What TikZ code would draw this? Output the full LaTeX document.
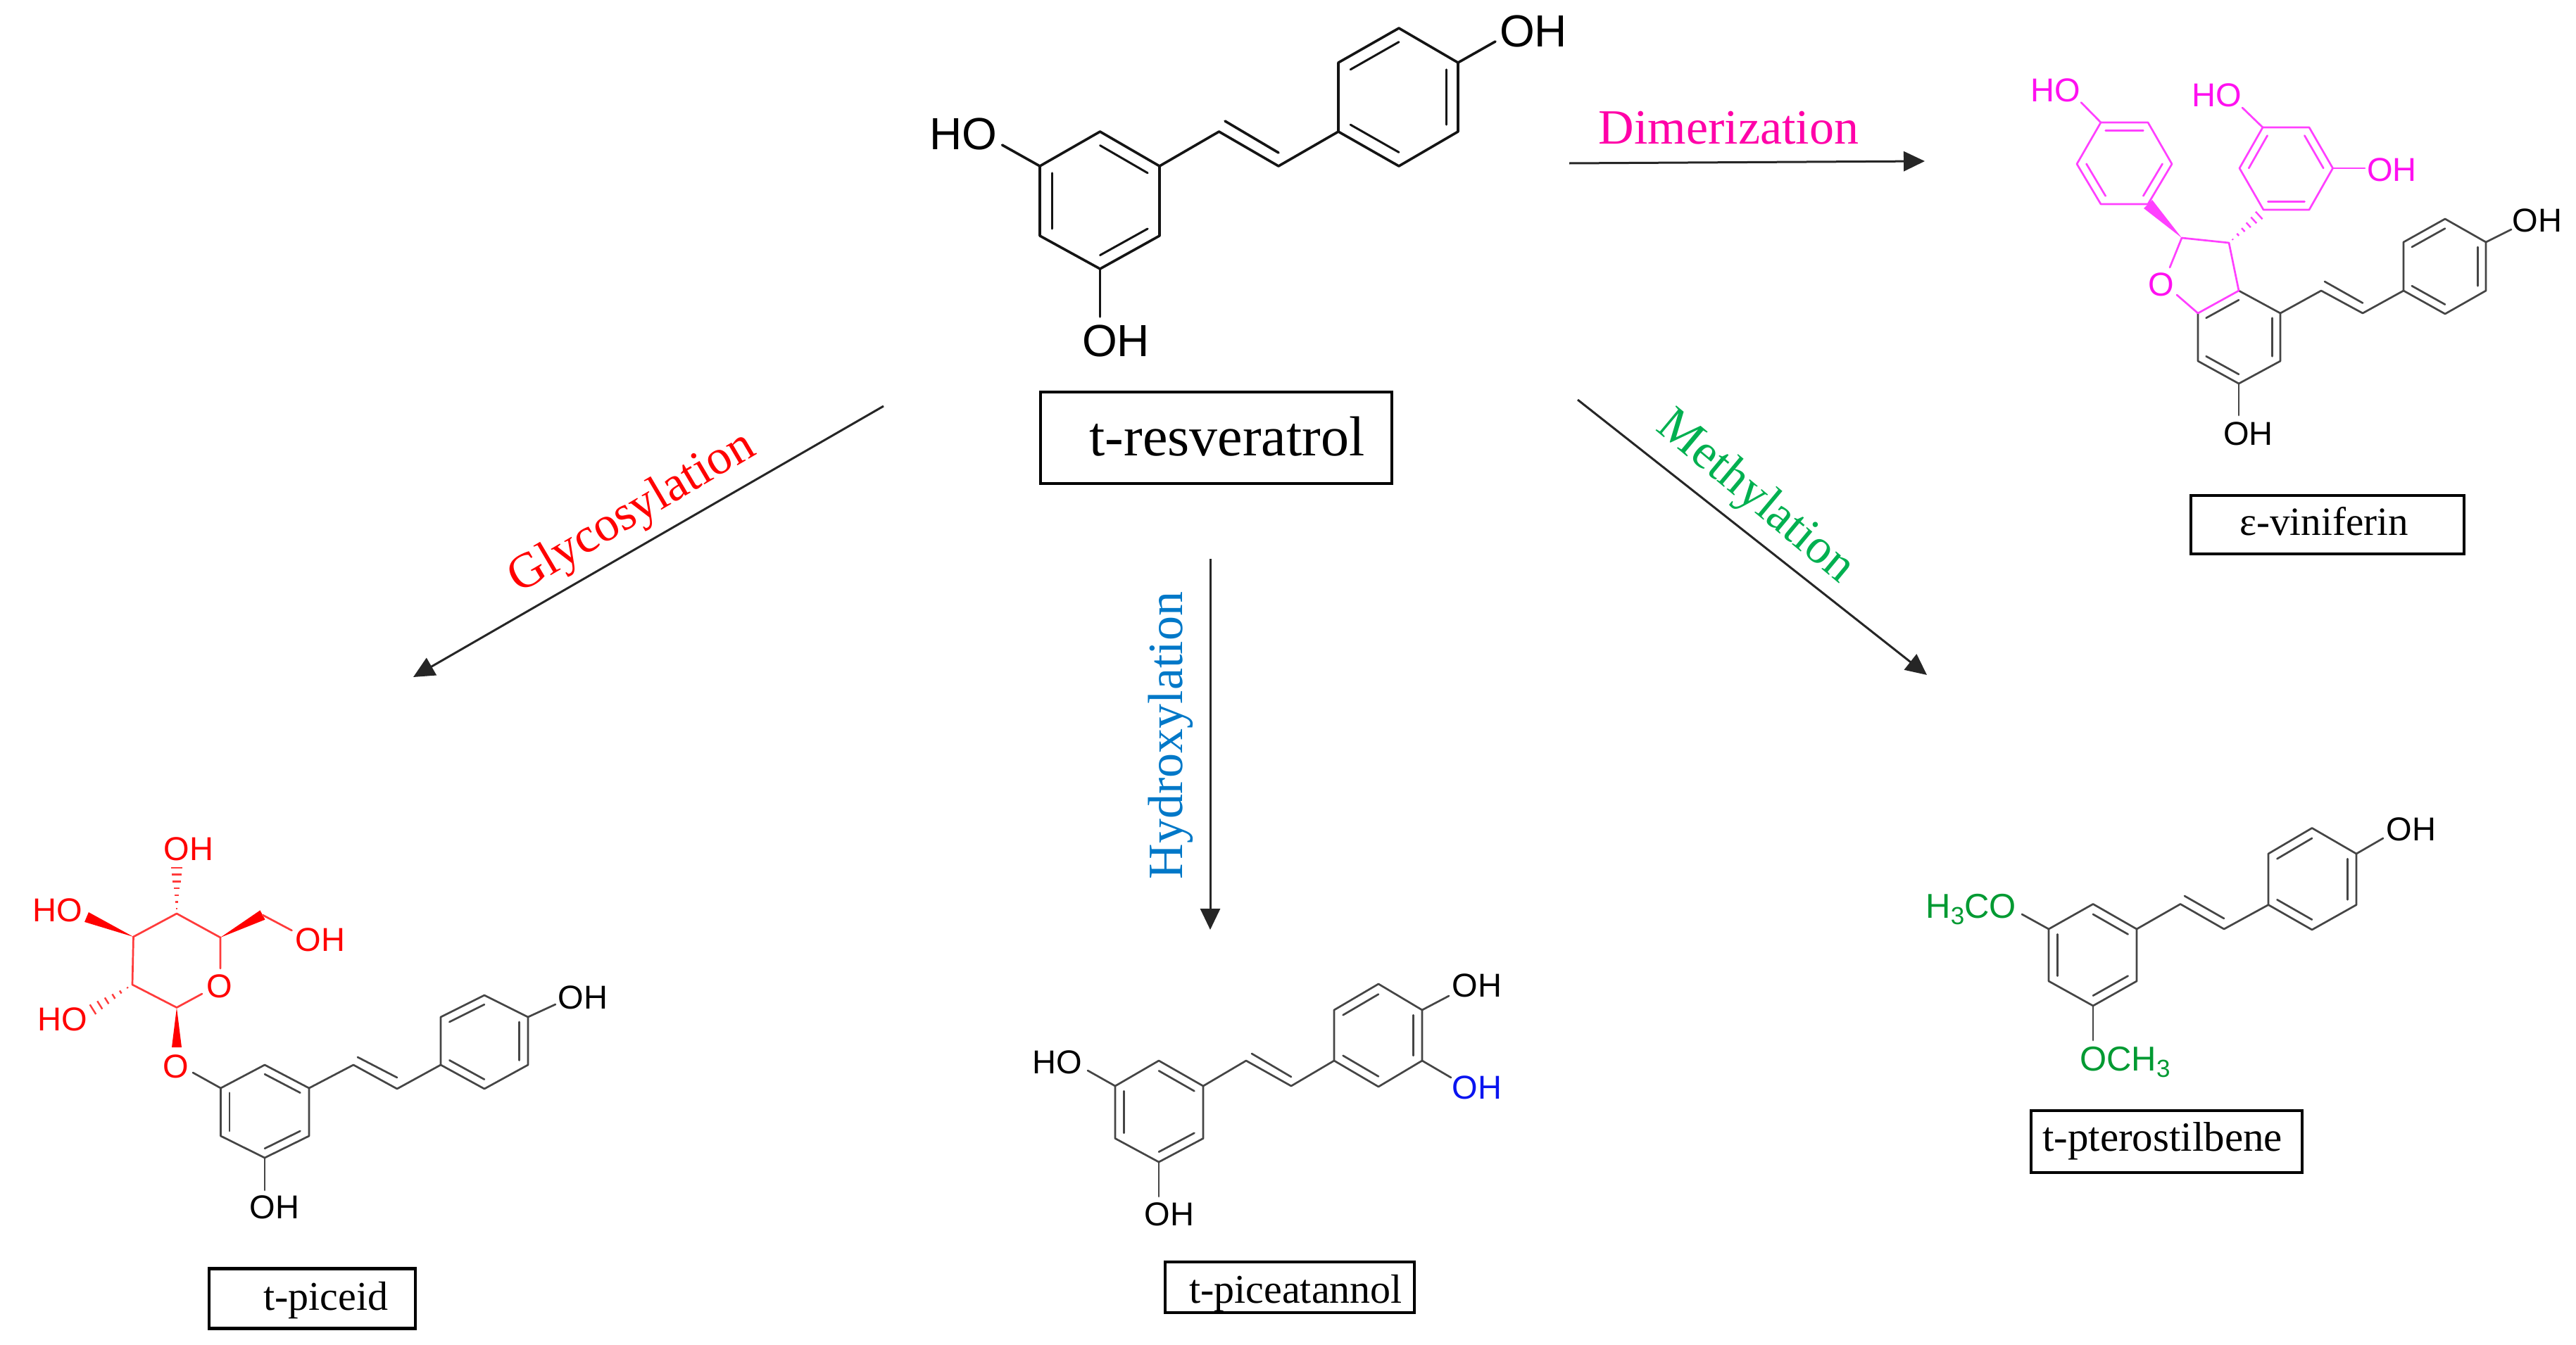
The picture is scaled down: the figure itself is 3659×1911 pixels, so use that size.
\documentclass[tikz,border=0pt]{standalone}
\usepackage{fontspec}
\setmainfont{Liberation Serif}
\newfontfamily\chemfont{Liberation Sans}
\usetikzlibrary{calc,arrows.meta}
\definecolor{dkgrey}{HTML}{454545}
\definecolor{magbond}{HTML}{FF40FF}
\definecolor{magtext}{HTML}{FF10F0}
\definecolor{redbond}{HTML}{FF3B3B}
\definecolor{chemgreen}{HTML}{009A32}
\definecolor{chemblue}{HTML}{0A14F0}
\definecolor{labpink}{HTML}{FF00A8}
\definecolor{labblue}{HTML}{0078C8}
\definecolor{labgreen}{HTML}{00B050}
\newcommand{\fsz}[1]{\fontsize{#1}{#1}\selectfont}
\newcommand{\subthree}{\raisebox{-9pt}{\fsz{35}3}}
\tikzset{
  x=1pt,y=-1pt,
  bondbig/.style={line width=3.6pt,draw=black!92,line cap=round,line join=round},
  bond/.style={line width=2.7pt,draw=dkgrey,line cap=round,line join=round},
  magb/.style={line width=2.7pt,draw=magbond,line cap=round,line join=round},
  redb/.style={line width=2.7pt,draw=redbond,line cap=round,line join=round},
  atombig/.style={inner sep=0pt,font=\chemfont\fsz{64}},
  atom/.style={inner sep=0pt,font=\chemfont\fsz{47}},
  atomwide/.style={inner sep=0pt,font=\chemfont\fsz{49}},
  namebox/.style={draw=black,line width=4.5pt,inner sep=0pt,fill=none},
  namelab/.style={inner sep=0pt,anchor=base},
  conv/.style={line width=3pt,draw=black!85,-{Triangle[length=30pt,width=28pt]}},
  rlab/.style={inner sep=0pt,anchor=base,font=\fsz{70}},
}
% inner line of a double bond: edge a-b pulled towards ring centre c
\newcommand{\inb}[3]{\path ($(#3)!0.8!(#1)$) coordinate (ia) ($(#3)!0.8!(#2)$) coordinate (ib); \draw[currentbond] (ia) -- (ib);}
\newcommand{\wedgeb}[6]{% x1 y1 x2 y2 width colour
  \pgfmathsetmacro{\wdx}{#3-#1}\pgfmathsetmacro{\wdy}{#4-#2}
  \pgfmathsetmacro{\wl}{veclen(\wdx,\wdy)}
  \pgfmathsetmacro{\wnx}{-\wdy/\wl*#5/2}\pgfmathsetmacro{\wny}{\wdx/\wl*#5/2}
  \fill[#6] (#1,#2) -- (#3+\wnx,#4+\wny) -- (#3-\wnx,#4-\wny) -- cycle;}
\newcommand{\hashb}[7]{% x1 y1 x2 y2 width colour n
  \pgfmathsetmacro{\wdx}{#3-#1}\pgfmathsetmacro{\wdy}{#4-#2}
  \pgfmathsetmacro{\wl}{veclen(\wdx,\wdy)}
  \pgfmathsetmacro{\wnx}{-\wdy/\wl*#5/2}\pgfmathsetmacro{\wny}{\wdx/\wl*#5/2}
  \foreach \i in {1,...,#7}{
    \pgfmathsetmacro{\wt}{(\i-0.3)/#7}
    \draw[line width=2.4pt,draw=#6] (#1+\wt*\wdx+\wt*\wnx,#2+\wt*\wdy+\wt*\wny) -- (#1+\wt*\wdx-\wt*\wnx,#2+\wt*\wdy-\wt*\wny);
  }}
\begin{document}
\begin{tikzpicture}
\useasboundingbox (0,0) rectangle (3659,1911);
\fill[white] (0,0) rectangle (3659,1911);

% ---------- t-resveratrol
\tikzset{currentbond/.style={bondbig,line width=3pt}}
\draw[bondbig] (1562.5,187) -- (1647,236) -- (1647,335) -- (1562.5,382) -- (1477,335) -- (1477,236) -- cycle;
\draw[bondbig] (1647,236) -- (1731.5,187) -- (1816,236) -- (1901,187);
\draw[bondbig] (1901,187) -- (1987,236) -- (2071,187) -- (2071,89) -- (1987,40) -- (1901,89) -- cycle;
\coordinate (ca) at (1562.5,285); \coordinate (cb) at (1987,138);
\inb{1562.5,187}{1647,236}{ca}\inb{1477,236}{1477,335}{ca}\inb{1647,335}{1562.5,382}{ca}
\inb{1901,89}{1987,40}{cb}\inb{2071,89}{2071,187}{cb}\inb{1901,187}{1987,236}{cb}
\draw[bondbig] (1740,172) -- (1816,217);
\node[atombig] (res1) at (2178,44) {OH};
\node[atombig] (res2) at (1368,190) {HO};
\node[atombig] (res3) at (1585,484) {OH};
\draw[bondbig] (2071,89) -- (2124,59);
\draw[bondbig] (1477,236) -- (1423.5,206);
\draw[bondbig] (1562.5,382) -- (1562.5,450);
\node[namebox,minimum width=499pt,minimum height=130pt] (resbox) at (1727.5,622) {};
\node[namelab,font=\fsz{80}] (reslab) at (1743,647) {t-resveratrol};

% ---------- e-viniferin
\tikzset{currentbond/.style={bond}}
\draw[bond] (3180,413) -- (3239,445) -- (3239,513) -- (3180,545) -- (3122,513) -- (3122,445);
\draw[magb] (3122,445) -- (3180,413);
\coordinate (cc) at (3180,479);
\inb{3122,445}{3180,413}{cc}\inb{3239,445}{3239,513}{cc}\inb{3180,545}{3122,513}{cc}
\draw[bond] (3239,445) -- (3297,413) -- (3356,445) -- (3414,413);
\draw[bond] (3302,400) -- (3356,430.5);
\draw[bond] (3414,413) -- (3473,446) -- (3531,413) -- (3531,344) -- (3473,311) -- (3414,344) -- cycle;
\coordinate (cd) at (3473,379);
\inb{3414,344}{3473,311}{cd}\inb{3531,344}{3531,413}{cd}\inb{3414,413}{3473,446}{cd}
\draw[bond] (3531,344) -- (3567,326);
\draw[bond] (3180,545) -- (3180,590);
\node[atom] (vin1) at (3604,313) {OH};
\node[atom] (vin2) at (3193.5,616) {OH};
% furan
\draw[magb] (3122,445) -- (3092,419);
\draw[magb] (3082,380) -- (3099,338) -- (3166,345) -- (3180,413);
\node[atom,text=magtext] (vinO) at (3070,404) {O};
\wedgeb{3099}{338}{3051}{290}{17}{magbond!100!magenta}
\hashb{3166}{345}{3211}{304}{15}{magbond}{6}
% ring P
\tikzset{currentbond/.style={magb}}
\draw[magb] (2984,174) -- (3051,174) -- (3085,233) -- (3051,290) -- (2984,290) -- (2950,233) -- cycle;
\coordinate (ce) at (3017.5,232);
\inb{2984,174}{3051,174}{ce}\inb{3085,233}{3051,290}{ce}\inb{2950,233}{2984,290}{ce}
\draw[magb] (2984,174) -- (2956,145.5);
\node[atom,text=magtext] (vin3) at (2920,128) {HO};
% ring Q
\draw[magb] (3214,181) -- (3280,181) -- (3313.5,239) -- (3280,298) -- (3215,298) -- (3181,239) -- cycle;
\coordinate (cf) at (3247,239);
\inb{3280,181}{3313.5,239}{cf}\inb{3181,239}{3214,181}{cf}\inb{3215,298}{3280,298}{cf}
\draw[magb] (3214,181) -- (3185,153);
\draw[magb] (3313.5,239) -- (3359,239);
\node[atom,text=magtext] (vin4) at (3149,135) {HO};
\node[atom,text=magtext] (vin5) at (3397.5,241.5) {OH};
\node[namebox,minimum width=388pt,minimum height=83pt] (vinbox) at (3306,745.5) {};
\node[namelab,font=\fsz{57}] (vinlab) at (3301,760) {ε-viniferin};

% ---------- t-piceid
\draw[redb] (251,1298) -- (313,1332) -- (313,1376);
\draw[redb] (287,1412) -- (251,1431.5) -- (188,1399) -- (189.5,1331) -- (251,1298);
\node[atom,text=red] (picO1) at (312,1401.5) {O};
\wedgeb{189.5}{1331}{123}{1303}{15}{red}
\wedgeb{313}{1332}{373}{1300}{15}{red}
\draw[redb] (373,1300) -- (414.5,1322);
\wedgeb{251}{1431.5}{251}{1488}{14}{red}
\hashb{251}{1298}{251}{1230}{17}{redbond}{7}
\hashb{188}{1399}{129}{1436}{17}{redbond}{6}
\node[atom,text=red] (pic1) at (268,1206) {OH};
\node[atom,text=red] (pic2) at (82,1293) {HO};
\node[atom,text=red] (pic3) at (455,1335) {OH};
\node[atom,text=red] (pic4) at (89,1448.5) {HO};
\node[atom,text=red] (picO2) at (250,1515) {O};
\tikzset{currentbond/.style={bond}}
\draw[bond] (274,1524) -- (313.5,1546);
\draw[bond] (313.5,1546) -- (376,1513) -- (439,1546) -- (439,1614) -- (376,1645) -- (313.5,1614) -- cycle;
\coordinate (cg) at (376,1579);
\inb{376,1513}{439,1546}{cg}\inb{313.5,1546}{313.5,1614}{cg}\inb{439,1614}{376,1645}{cg}
\draw[bond] (439,1546) -- (502,1513) -- (564,1547) -- (626,1513);
\draw[bond] (508,1502) -- (564,1531);
\draw[bond] (626,1513) -- (688,1547) -- (750,1513) -- (750,1445) -- (688,1414) -- (626,1445) -- cycle;
\coordinate (ch) at (688,1480);
\inb{626,1445}{688,1414}{ch}\inb{750,1445}{750,1513}{ch}\inb{626,1513}{688,1547}{ch}
\draw[bond] (750,1445) -- (789,1427);
\draw[bond] (376,1645) -- (376,1691);
\node[atom] (pic5) at (828,1417) {OH};
\node[atom] (pic6) at (390,1715.5) {OH};
\node[namebox,minimum width=293pt,minimum height=85pt] (picbox) at (443.5,1845) {};
\node[namelab,font=\fsz{58}] (piclab) at (463,1861) {t-piceid};

% ---------- t-piceatannol
\draw[bond] (1646,1507) -- (1709,1543) -- (1709,1617.5) -- (1646,1651) -- (1584,1617.5) -- (1584,1543) -- cycle;
\coordinate (ci) at (1646,1579);
\inb{1646,1507}{1709,1543}{ci}\inb{1584,1543}{1584,1617.5}{ci}\inb{1709,1617.5}{1646,1651}{ci}
\draw[bond] (1709,1543) -- (1770,1507) -- (1834,1543) -- (1895,1507);
\draw[bond] (1778,1497) -- (1834,1530);
\draw[bond] (1895,1507) -- (1958,1544) -- (2020,1507) -- (2020,1435) -- (1958,1398) -- (1895,1435) -- cycle;
\coordinate (cj) at (1958,1471);
\inb{1895,1435}{1958,1398}{cj}\inb{2020,1435}{2020,1507}{cj}\inb{1895,1507}{1958,1544}{cj}
\draw[bond] (2020,1435) -- (2058,1415);
\draw[bond] (2020,1507) -- (2061,1531);
\draw[bond] (1584,1543) -- (1545,1521);
\draw[bond] (1646,1651) -- (1646,1700);
\node[atom] (pia1) at (2098,1400) {OH};
\node[atom,text=chemblue] (pia2) at (2098,1545) {OH};
\node[atom] (pia3) at (1502,1509) {HO};
\node[atom] (pia4) at (1661,1725) {OH};
\node[namebox,minimum width=354pt,minimum height=72pt] (piabox) at (1832,1829) {};
\node[namelab,font=\fsz{58}] (pialab) at (1840.5,1851) {t-piceatannol};

% ---------- t-pterostilbene
\draw[bond] (2973,1284.5) -- (3035,1320) -- (3035,1394) -- (2973,1429) -- (2910,1394) -- (2910,1320) -- cycle;
\coordinate (ck) at (2973,1357);
\inb{2973,1284.5}{3035,1320}{ck}\inb{2910,1320}{2910,1394}{ck}\inb{3035,1394}{2973,1429}{ck}
\draw[bond] (3035,1320) -- (3097,1284.5) -- (3159,1320) -- (3222,1285.6);
\draw[bond] (3103,1273) -- (3159,1305);
\draw[bond] (3222,1285.6) -- (3284,1321) -- (3347,1285.6) -- (3347,1213) -- (3284,1176.5) -- (3222,1213) -- cycle;
\coordinate (cl) at (3284,1249);
\inb{3222,1213}{3284,1176.5}{cl}\inb{3347,1213}{3347,1285.6}{cl}\inb{3222,1285.6}{3284,1321}{cl}
\draw[bond] (3347,1213) -- (3385,1191);
\draw[bond] (2910,1320) -- (2872,1299);
\draw[bond] (2973,1429) -- (2973,1478);
\node[atom] (pte1) at (3425,1178) {OH};
\node[atomwide,text=chemgreen,anchor=base east] (pte2) at (2864,1304.5) {H\subthree CO};
\node[atomwide,text=chemgreen,anchor=base west] (pte3) at (2954,1521) {OCH\subthree};
\node[namebox,minimum width=385pt,minimum height=88pt] (ptebox) at (3077.5,1622) {};
\node[namelab,font=\fsz{59}] (ptelab) at (3071.5,1635) {t-pterostilbene};

% ---------- reaction arrows
\coordinate (dimA) at (2229,232); \coordinate (dimB) at (2734,229);
\draw[conv] (dimA) -- (dimB);
\node[rlab,text=labpink] (dimlab) at (2455.5,204) {Dimerization};
\coordinate (glyA) at (1255,577); \coordinate (glyB) at (587,962);
\draw[conv] (glyA) -- (glyB);
\node[rlab,text=red,rotate=30.5] (glylab) at (907,744) {Glycosylation};
\coordinate (hydA) at (1719,794); \coordinate (hydB) at (1719,1321);
\draw[conv] (hydA) -- (hydB);
\node[rlab,text=labblue,rotate=90] (hydlab) at (1679,1045) {Hydroxylation};
\coordinate (metA) at (2241,568); \coordinate (metB) at (2737,959);
\draw[conv] (metA) -- (metB);
\node[rlab,text=labgreen,rotate=-39.8] (metlab) at (2482,720) {Methylation};
\end{tikzpicture}
\end{document}
